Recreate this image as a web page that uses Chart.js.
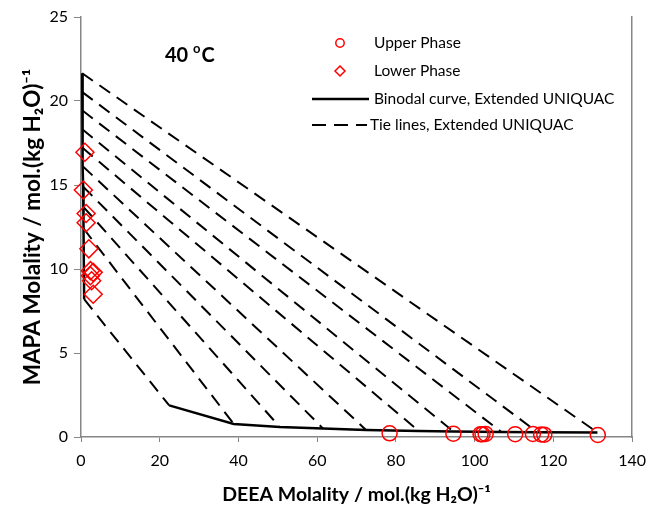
<!DOCTYPE html>
<html>
<head>
<meta charset="utf-8">
<script src="https://cdn.jsdelivr.net/npm/chart.js@4/dist/chart.umd.min.js"></script>
<style>
  html, body { margin: 0; padding: 0; background: #fff; }
  #wrap { width: 655px; height: 506px; }
</style>
</head>
<body>
<div id="wrap"><canvas id="chart" width="655" height="506"></canvas></div>
<script>
// experimental points
const upperX = [78.4, 94.6, 101.5, 102.0, 102.8, 110.3, 114.8, 116.9, 117.7, 131.3];
const upperY = [0.22, 0.2, 0.17, 0.16, 0.18, 0.17, 0.18, 0.15, 0.14, 0.12];
const lowerX = [1.0, 0.6, 1.3, 1.3, 2.0, 2.4, 3.1, 2.4, 2.7, 3.1];
const lowerY = [16.95, 14.7, 13.3, 12.75, 11.2, 9.9, 9.8, 9.6, 9.3, 8.5];

// model: binodal branches (tie line ends)
const binodalTopX = [0.3, 0.33, 0.37, 0.4, 0.45, 0.5, 0.55, 0.6, 0.68, 0.8];
const binodalTopY = [21.65, 20.53, 19.43, 18.3, 17.2, 16.1, 14.9, 13.7, 12.4, 8.2];
const binodalBotX = [131.2, 116.0, 106.8, 94.6, 85.8, 72.4, 61.5, 50.5, 38.8, 22.4];
const binodalBotY = [0.27, 0.28, 0.3, 0.33, 0.36, 0.42, 0.5, 0.6, 0.78, 1.88];

const xTicks = [0, 20, 40, 60, 80, 100, 120, 140];
const yTicks = [0, 5, 10, 15, 20, 25];

const legendLabels = ['Upper Phase', 'Lower Phase', 'Binodal curve, Extended UNIQUAC', 'Tie lines, Extended UNIQUAC'];

const FONT = 'Lato, "Open Sans", sans-serif';
const RED = '#ff0000';
const AXIS = '#868686';

const pts = (xs, ys) => xs.map((x, i) => ({ x: x, y: ys[i] }));

const tieLines = binodalTopX.map((x, i) => ({
    label: 'tie' + i,
    data: [{ x: x, y: binodalTopY[i] }, { x: binodalBotX[i], y: binodalBotY[i] }],
    showLine: true,
    borderColor: '#000',
    borderWidth: 2,
    borderDash: [13, 8],
    pointRadius: 0,
    order: 3
}));

const notes = {
    id: 'notes',
    afterDraw(chart) {
        const ctx = chart.ctx;
        ctx.save();
        ctx.fillStyle = '#000';
        ctx.textBaseline = 'middle';

        // temperature label
        ctx.font = 'bold 20px ' + FONT;
        ctx.fillText('40 ', 165, 56);
        let w = ctx.measureText('40 ').width;
        ctx.font = 'bold 13px ' + FONT;
        ctx.fillText('o', 165 + w, 49);
        let w2 = ctx.measureText('o').width;
        ctx.font = 'bold 20px ' + FONT;
        ctx.fillText('C', 165 + w + w2 + 1, 56);

        // legend
        const rows = [43, 71, 99, 125];
        ctx.font = '15.5px ' + FONT;
        ctx.textAlign = 'left';
        legendLabels.forEach((t, i) => ctx.fillText(t, i == 3 ? 370 : 374, rows[i]));

        ctx.strokeStyle = RED;
        ctx.lineWidth = 1.5;
        ctx.beginPath();
        ctx.arc(340, rows[0], 4.2, 0, Math.PI * 2);
        ctx.stroke();
        ctx.beginPath();
        ctx.moveTo(340, rows[1] - 5);
        ctx.lineTo(345, rows[1]);
        ctx.lineTo(340, rows[1] + 5);
        ctx.lineTo(335, rows[1]);
        ctx.closePath();
        ctx.stroke();

        ctx.strokeStyle = '#000';
        ctx.lineWidth = 2.5;
        ctx.beginPath();
        ctx.moveTo(312, rows[2]);
        ctx.lineTo(369, rows[2]);
        ctx.stroke();
        ctx.lineWidth = 2;
        ctx.setLineDash([14, 8]);
        ctx.beginPath();
        ctx.moveTo(312, rows[3]);
        ctx.lineTo(367, rows[3]);
        ctx.stroke();
        ctx.restore();
    }
};

new Chart(document.getElementById('chart'), {
    type: 'scatter',
    data: {
        datasets: [
            {
                label: legendLabels[0],
                data: pts(upperX, upperY),
                pointStyle: 'circle',
                pointRadius: 7.5,
                pointBorderWidth: 1.5,
                borderColor: RED,
                backgroundColor: 'rgba(0,0,0,0)',
                clip: false,
                order: 0
            },
            {
                label: legendLabels[1],
                data: pts(lowerX, lowerY),
                pointStyle: 'rectRot',
                pointRadius: 9,
                pointBorderWidth: 1.5,
                borderColor: RED,
                backgroundColor: 'rgba(0,0,0,0)',
                clip: false,
                order: 1
            },
            {
                label: legendLabels[2],
                data: pts(binodalTopX, binodalTopY),
                showLine: true,
                borderColor: '#000',
                borderWidth: 2.5,
                pointRadius: 0,
                order: 2
            },
            {
                label: 'binodal2',
                data: pts(binodalBotX, binodalBotY),
                showLine: true,
                borderColor: '#000',
                borderWidth: 2.5,
                pointRadius: 0,
                order: 2
            },
            ...tieLines
        ]
    },
    options: {
        responsive: false,
        animation: false,
        devicePixelRatio: 1,
        layout: { padding: { top: 17, right: 18, left: 0, bottom: 0 } },
        plugins: {
            legend: { display: false },
            tooltip: { enabled: false }
        },
        scales: {
            x: {
                type: 'linear',
                min: 0,
                max: 140,
                afterBuildTicks: s => { s.ticks = xTicks.map(v => ({ value: v })); },
                afterFit: s => { s.height = 69; },
                ticks: { font: { family: FONT, size: 16 }, color: '#000', padding: 9, maxRotation: 0 },
                grid: { drawOnChartArea: false, drawTicks: true, tickLength: 5, color: AXIS },
                border: { color: AXIS, width: 1.5 },
                title: {
                    display: true,
                    text: 'DEEA Molality / mol.(kg H₂O)⁻¹',
                    font: { family: FONT, size: 19.5, weight: 'bold' },
                    color: '#000',
                    padding: { top: 3, bottom: 0 }
                }
            },
            y: {
                type: 'linear',
                min: 0,
                max: 25,
                afterBuildTicks: s => { s.ticks = yTicks.map(v => ({ value: v })); },
                afterFit: s => { s.width = 81; },
                ticks: { font: { family: FONT, size: 16 }, color: '#000', padding: 6 },
                grid: { drawOnChartArea: false, drawTicks: true, tickLength: 7, color: AXIS },
                border: { color: AXIS, width: 1.5 },
                title: {
                    display: true,
                    text: 'MAPA Molality / mol.(kg H₂O)⁻¹',
                    font: { family: FONT, size: 22.5, weight: 'bold' },
                    color: '#000',
                    padding: { top: 19, bottom: 0 }
                }
            },
            y2: {
                type: 'linear',
                position: 'right',
                min: 0,
                max: 25,
                afterFit: s => { s.width = 0; },
                ticks: { display: false },
                grid: { drawOnChartArea: false, drawTicks: false },
                border: { color: AXIS, width: 1.5 }
            }
        }
    },
    plugins: [notes]
});
</script>
</body>
</html>
